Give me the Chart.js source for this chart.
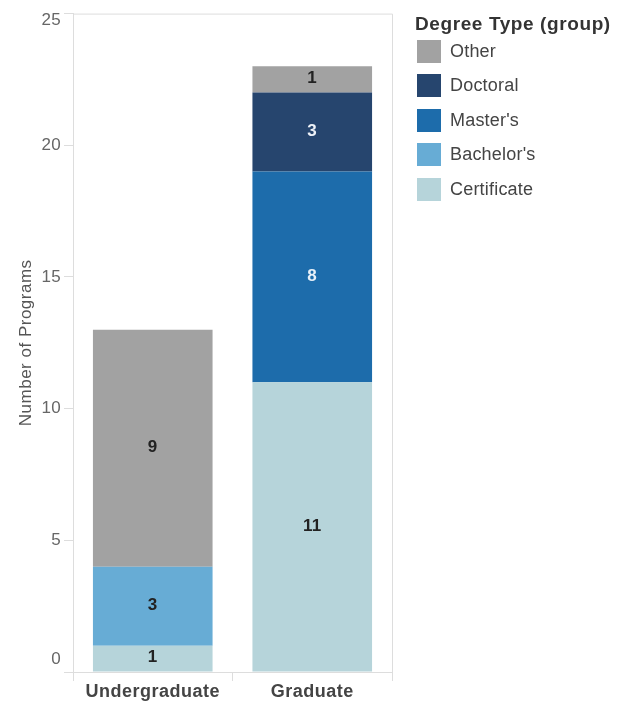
<!DOCTYPE html>
<html>
<head>
<meta charset="utf-8">
<script src="https://cdn.jsdelivr.net/npm/chart.js"></script>
<style>
  body { margin: 0; background: #fff; font-family: "Liberation Sans", Arial, sans-serif; }
  #wrap { position: relative; width: 624px; height: 702px; }
  #legend { position: absolute; left: 0; top: 0; color: #444; }
  #legend .title { position: absolute; left: 415px; top: 13px; white-space: nowrap; font-weight: bold; font-size: 19px; letter-spacing: 0.6px; color: #333; }
  #legend .sw { position: absolute; left: 417px; width: 24px; height: 23px; }
  #legend .lab { position: absolute; left: 450px; white-space: nowrap; font-size: 18px; letter-spacing: 0.2px; line-height: 23px; }
</style>
</head>
<body>
<div id="wrap">
  <canvas id="chart" width="624" height="702"></canvas>
  <div id="legend"></div>
</div>
<script>
// categories and series (stacked bottom to top)
const categories = ['Undergraduate', 'Graduate'];
const certificate = [1, 11];
const bachelors = [3, null];
const masters = [null, 8];
const doctoral = [null, 3];
const other = [9, 1];
const yTicks = [0, 5, 10, 15, 20, 25];

const series = [
  { label: 'Certificate', data: certificate, color: '#b6d4da', text: '#222' },
  { label: "Bachelor's", data: bachelors, color: '#67acd5', text: '#222' },
  { label: "Master's", data: masters, color: '#1d6cab', text: '#e8f0f8' },
  { label: 'Doctoral', data: doctoral, color: '#26456e', text: '#eef2f8' },
  { label: 'Other', data: other, color: '#a2a2a2', text: '#222' },
];

const FONT = '"Liberation Sans", Arial, sans-serif';

// a little extra text spacing, as the reference renders it
const spacing = {
  id: 'spacing',
  beforeDraw(chart) { chart.ctx.letterSpacing = '0.5px'; },
};

// value labels in the middle of each segment
const barLabels = {
  id: 'barLabels',
  afterDatasetsDraw(chart) {
    const ctx = chart.ctx;
    ctx.save();
    ctx.letterSpacing = '0.3px';
    ctx.font = 'bold 17px ' + FONT;
    ctx.textAlign = 'center';
    ctx.textBaseline = 'middle';
    chart.data.datasets.forEach((ds, i) => {
      const meta = chart.getDatasetMeta(i);
      meta.data.forEach((bar, j) => {
        const v = ds.data[j];
        if (v == null) return;
        ctx.fillStyle = series[i].text;
        ctx.fillText(String(v), bar.x, (bar.y + bar.base) / 2 - 1);
      });
    });
    ctx.restore();
  }
};

// light frame round the plot area + y tick labels kept inside it
const frame = {
  id: 'frame',
  beforeDatasetsDraw(chart) {
    const { ctx, chartArea: a } = chart;
    ctx.save();
    ctx.strokeStyle = '#dddddd';
    ctx.lineWidth = 1;
    ctx.beginPath();
    ctx.moveTo(a.left, a.top + 0.5);
    ctx.lineTo(a.right + 0.5, a.top + 0.5);
    ctx.lineTo(a.right + 0.5, a.bottom);
    ctx.stroke();

    const y = chart.scales.y;
    ctx.letterSpacing = '0.3px';
    ctx.font = '17px ' + FONT;
    ctx.fillStyle = '#666';
    ctx.textAlign = 'right';
    ctx.textBaseline = 'middle';
    y.ticks.forEach(t => {
      let py = y.getPixelForValue(t.value);
      py = Math.min(Math.max(py, a.top + 7), a.bottom - 13);
      ctx.fillText(String(t.value), 61, py);
    });
    ctx.restore();
  }
};

new Chart(document.getElementById('chart'), {
  type: 'bar',
  data: {
    labels: categories,
    datasets: series.map(s => ({
      label: s.label,
      data: s.data,
      backgroundColor: s.color,
      borderWidth: 0,
      categoryPercentage: 1,
      barPercentage: 0.75,
    })),
  },
  options: {
    responsive: false,
    animation: false,
    layout: { padding: { top: 10, right: 232, bottom: 0, left: 0 } },
    plugins: { legend: { display: false }, tooltip: { enabled: false } },
    scales: {
      x: {
        stacked: true,
        afterFit: s => { s.height = 30; },
        grid: { drawOnChartArea: false, drawTicks: true, tickLength: 9, color: '#dddddd', offset: true },
        border: { color: '#dddddd' },
        ticks: { color: '#444', padding: 0, font: { family: FONT, size: 18, weight: 'bold' } },
      },
      y: {
        stacked: true,
        min: 0,
        max: 25,
        afterBuildTicks: s => { s.ticks = yTicks.map(v => ({ value: v })); },
        afterFit: s => { s.width = 73; },
        grid: { drawOnChartArea: false, drawTicks: true, tickLength: 9, color: '#dddddd' },
        border: { color: '#dddddd' },
        ticks: { color: 'rgba(0,0,0,0)', padding: 4, font: { family: FONT, size: 16 } },
        title: {
          display: true,
          text: 'Number of Programs',
          color: '#555',
          padding: { top: 16, bottom: 0 },
          font: { family: FONT, size: 17 },
        },
      },
    },
  },
  plugins: [spacing, frame, barLabels],
});

// legend in reverse stack order, as in the reference
const legend = document.getElementById('legend');
legend.innerHTML = '<div class="title">Degree Type (group)</div>' +
  series.slice().reverse().map((s, i) => {
    const top = 40 + i * 34.4;
    return '<div class="sw" style="top:' + top + 'px;background:' + s.color + '"></div>' +
      '<div class="lab" style="top:' + top + 'px">' + s.label + '</div>';
  }).join('');
</script>
</body>
</html>
